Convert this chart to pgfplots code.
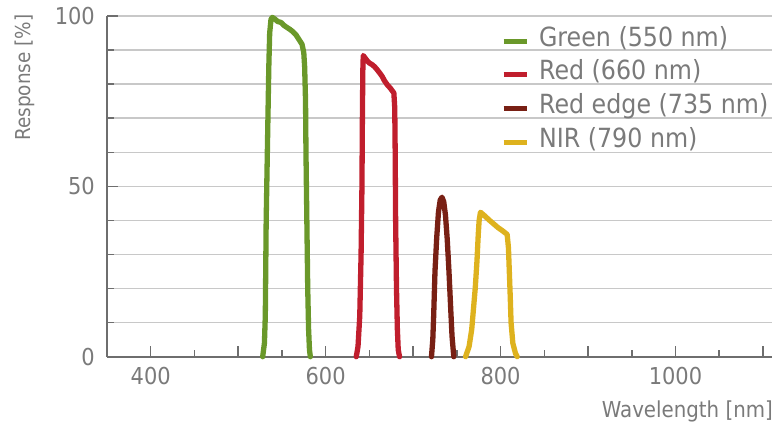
\documentclass[border=0pt]{standalone}
\usepackage{pgfplots}
\pgfplotsset{compat=1.18}
\usepackage{fontspec}
\setmainfont{DejaVu Sans}[FakeStretch=0.9]
\definecolor{txtgray}{RGB}{122,122,122}
\definecolor{axgray}{RGB}{110,110,110}
\definecolor{gridgray}{RGB}{200,200,200}
\definecolor{cgreen}{RGB}{106,152,42}
\definecolor{cred}{RGB}{192,30,45}
\definecolor{credge}{RGB}{120,32,20}
\definecolor{cnir}{RGB}{222,178,30}

\begin{document}
\begin{tikzpicture}
\path[use as bounding box] (0,0) rectangle (778pt,430pt);
\begin{axis}[
  at={(107pt,73.3pt)}, anchor=south west,
  scale only axis, width=664.7pt, height=340.7pt,
  xmin=350, xmax=1110, ymin=0, ymax=100,
  axis lines*=left, clip=false,
  axis line style={axgray, line width=1.8pt},
  tick align=inside,
  major tick length=11pt, minor tick length=7pt,
  tick style={axgray, line width=1.5pt},
  xtick={400,500,...,1100}, xticklabels={400,,600,,800,,1000,},
  minor xtick={450,550,...,1050},
  ytick={0,50,100}, minor ytick={10,20,30,40,60,70,80,90},
  ymajorgrids, yminorgrids,
  major grid style={gridgray, line width=1.5pt},
  minor grid style={gridgray, line width=1.5pt},
  /pgf/number format/assume math mode=true,
  ticklabel style={font=\fontsize{23.3}{26}\selectfont, text=txtgray},
  xticklabel style={inner sep=0pt, yshift=-10pt},
  yticklabel style={inner sep=0pt, xshift=-12pt},
  xlabel={Wavelength [nm]}, ylabel={Response [\%]},
  xlabel style={font=\fontsize{22}{26}\selectfont, text=txtgray, inner sep=0pt,
    at={(axis description cs:1.002,-0.162)}, anchor=east},
  ylabel style={font=\fontsize{20.5}{24}\selectfont, text=txtgray, inner sep=0pt,
    at={(axis description cs:-0.1234,0.8195)}, anchor=center},
  legend style={at={(axis description cs:0.5925,0.969)}, anchor=north west,
    draw=none, fill=none, font=\fontsize{26.4}{30}\selectfont, text=txtgray,
    row sep=8.7pt, column sep=10pt, inner sep=0pt,
    nodes={inner sep=0pt, text height=19.5pt, text depth=5.5pt}},
  legend cell align=left,
  legend image code/.code={\draw[#1, line width=5pt, line cap=butt] (0pt,-2pt) -- (23pt,-2pt);},
  every axis plot/.append style={line width=5.3pt, line join=round, line cap=round},
]
\addplot[cgreen] coordinates {
(528,0) (530,4) (531,12) (532,40) (534,70) (535,85) (536,95) (537.5,99) (539,99.6)
(542,99.1) (545,98.4) (549,98.1) (552,97.3) (556,96.6) (559,96.1) (562,95.5)
(566,94.5) (569.5,93.1) (573,91.7) (575,89.2) (576,85) (577,75) (577.5,60)
(578.5,40) (579.5,20) (580.5,8) (581.5,2) (582.5,0)};
\addlegendentry{Green (550 nm)}
\addplot[cred] coordinates {
(635,0) (637,3) (639,12) (640.5,30) (641.5,50) (642,70) (642.5,84) (643,88.4)
(645,87.7) (647.6,86.8) (650,86.2) (653.3,85.7) (656,85.1) (659,84.2) (662,83.2)
(664.8,82.2) (667,81.1) (670.5,79.8) (674,78.8) (678,77.4) (679,73) (679.5,60)
(680,40) (681,20) (682,8) (683,2) (684.5,0)};
\addlegendentry{Red (660 nm)}
\addplot[credge] coordinates {
(721,0) (722.5,5) (723.5,12) (725,25) (727,35) (729,42.5) (731,46) (733,46.8)
(735,45.5) (737,41.5) (739,34.5) (741,25) (743,14) (744.5,6) (746.5,0)};
\addlegendentry{Red edge (735 nm)}
\addplot[cnir] coordinates {
(760,0) (764,3) (767,8) (769,14) (771,20) (773,28) (774.5,36) (775.5,40) (777,42.4)
(782,41.3) (787,40.1) (792,39) (797,37.9) (802,37) (807.5,35.9) (809,32) (810,25)
(811,18) (812,10) (814,4) (817,1) (819,0)};
\addlegendentry{NIR (790 nm)}
\end{axis}
\end{tikzpicture}
\end{document}
